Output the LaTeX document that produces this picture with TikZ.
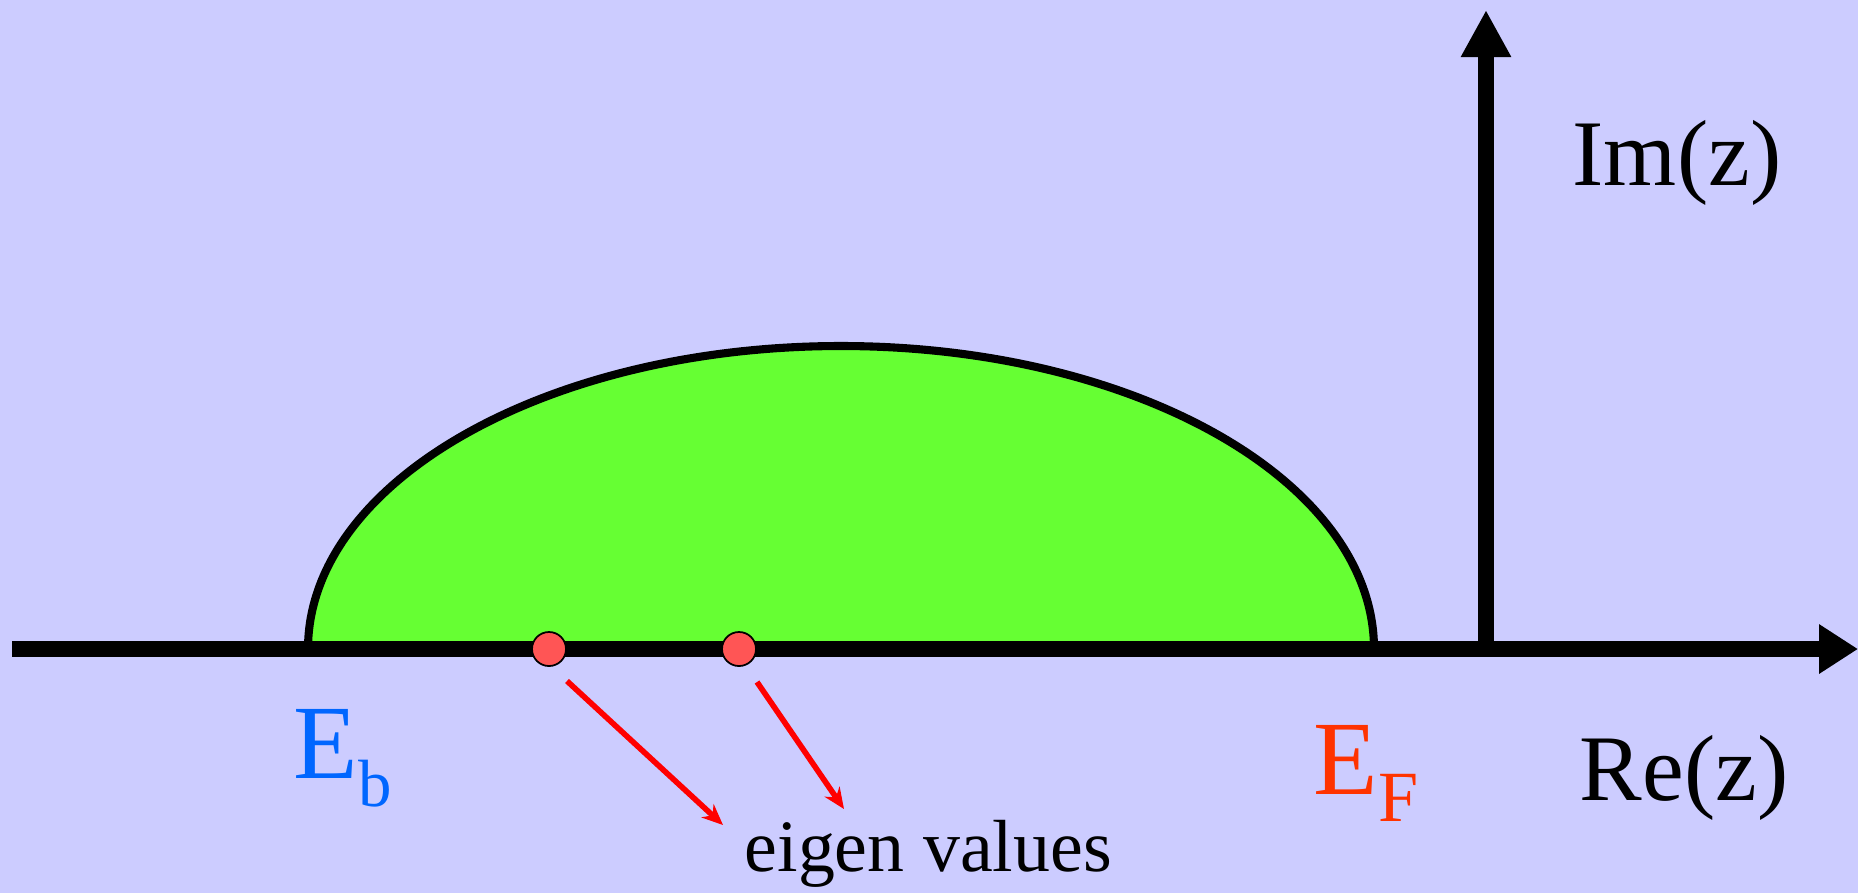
\documentclass[tikz,border=0pt]{standalone}
\usepackage{fontspec}
\setmainfont{Liberation Serif}
\usetikzlibrary{arrows.meta}

\definecolor{bgblue}{HTML}{CCCCFF}
\definecolor{lobegreen}{HTML}{66FF33}
\definecolor{dotred}{HTML}{FF5555}
\definecolor{ebblue}{HTML}{0066FF}
\definecolor{efred}{HTML}{FF3300}

\tikzset{
    axisline/.style={line width=4.3pt},
    eigdot/.style={circle, draw=black, line width=0.5pt, fill=dotred, minimum size=0.34cm, inner sep=0pt},
    pointer/.style={red, line width=1.6pt, -{Stealth[length=0.21cm, width=0.18cm]}},
    lbl/.style={inner sep=0pt, anchor=base west}
}

\begin{document}
\begin{tikzpicture}[x=0.01cm, y=-0.01cm]
        % background
        \fill[bgblue] (0,0) rectangle (1858,893);
        \useasboundingbox (0,0) rectangle (1858,893);

        % the lobe
        \draw[fill=lobegreen, line width=2.3pt] (308,649) arc[start angle=180, end angle=360, x radius=533, y radius=303] -- cycle;

        % axes
        \coordinate (reS) at (12,649);
        \coordinate (reE) at (1858,649);
        \coordinate (O) at (1486,649);
        \coordinate (imE) at (1486,10);
        \draw[axisline, -{Triangle[length=0.39cm, width=0.47cm]}] (reS) -- (reE);
        \draw[axisline, -{Triangle[length=0.47cm, width=0.47cm]}] (O) -- (imE);

        % eigen values on the axis
        \node[eigdot] (ev1) at (549,649) {};
        \node[eigdot] (ev2) at (739,649) {};

        \node[lbl, font=\fontsize{21}{24}\selectfont] (eig) at (744,871) {eigen values};

        \coordinate (p1s) at (567,681);
        \coordinate (p1e) at (723,825);
        \coordinate (p2s) at (757,682);
        \coordinate (p2e) at (844,809);
        \draw[pointer] (p1s) -- (p1e);
        \draw[pointer] (p2s) -- (p2e);

        % labels
        \node[lbl, font=\fontsize{26.7}{30}\selectfont] (imz) at (1572,185) {Im(z)};
        \node[lbl, font=\fontsize{26.7}{30}\selectfont] (rez) at (1579,800) {Re(z)};
        \node[lbl, text=ebblue, font=\fontsize{30}{34}\selectfont] (Eb) at (293,778) {E\raisebox{-0.28cm}{\fontsize{19}{20}\selectfont b}};
        \node[lbl, text=efred, font=\fontsize{30}{34}\selectfont] (EF) at (1313,794) {E\raisebox{-0.27cm}{\fontsize{20.5}{22}\selectfont F}};
    \end{tikzpicture}
\end{document}
